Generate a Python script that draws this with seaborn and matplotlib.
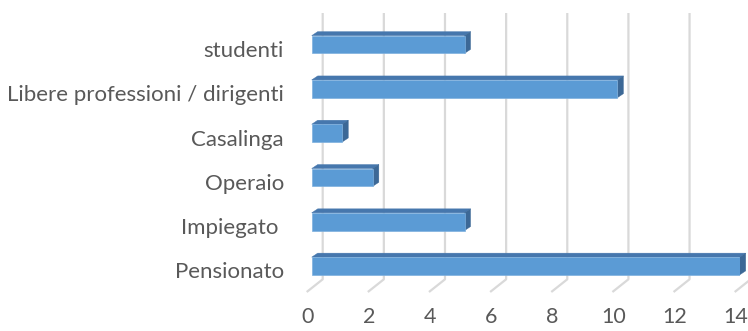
import matplotlib
matplotlib.use("Agg")
import matplotlib.pyplot as plt
import matplotlib.transforms as mtransforms
from matplotlib.patches import Polygon
import seaborn as sns
import pandas as pd

categories = ["studenti", "Libere professioni / dirigenti", "Casalinga",
              "Operaio", "Impiegato ", "Pensionato"]
values = [5, 10, 1, 2, 5, 14]
x_ticks = [0, 2, 4, 6, 8, 10, 12, 14]
x_tick_labels = ["0", "2", "4", "6", "8", "10", "12", "14"]

FRONT = "#5b9bd5"
TOP = "#4677ad"
SIDE = "#3c6896"
GRID = "#d9d9d9"
TEXT = "#595959"

sns.set_theme(style="white")
plt.rcParams["font.family"] = ["Lato", "DejaVu Sans"]

W, H = 748, 331
fig = plt.figure(figsize=(W / 100, H / 100), dpi=100)
ax = fig.add_axes([311.7 / W, (H - 292) / H, 428 / W, 279 / H])

df = pd.DataFrame({"cat": categories, "val": values})
sns.barplot(data=df, x="val", y="cat", orient="h", width=0.4, color=FRONT,
            saturation=1, ax=ax, zorder=3, edgecolor="#7eb0de", linewidth=0.5)

ax.set_xlim(0, 14)
ax.set_ylim(5.587, -0.711)
for s in ax.spines.values():
    s.set_visible(False)
ax.set_xlabel("")
ax.set_ylabel("")

bbox = ax.get_window_extent()
ppx = bbox.width / 14.0
ppy = bbox.height / (5.587 + 0.711)

# 3D gridlines: back wall + floor
blend = mtransforms.blended_transform_factory(ax.transData, ax.transAxes)
floor_back = (292 - 279.3) / 279
for v in x_ticks:
    xb = v + 11 / ppx
    xf = v - 5 / ppx
    ax.plot([xb, xb, xf], [1, floor_back, 0], transform=blend, color=GRID,
            lw=1.6, zorder=0, clip_on=False, solid_capstyle="butt")

# 3D depth faces for bars
dx = 6 / ppx
dy = 4 / ppy
for p in ax.patches:
    x0 = p.get_x()
    w = p.get_width()
    y0 = p.get_y()
    h = p.get_height()
    ytop = min(y0, y0 + h)
    ybot = max(y0, y0 + h)
    x1 = x0 + w
    top = Polygon([(x0, ytop), (x1, ytop), (x1 + dx, ytop - dy), (x0 + dx, ytop - dy)],
                  closed=True, facecolor=TOP, edgecolor=TOP, lw=0.3, zorder=2, clip_on=False)
    side = Polygon([(x1, ytop), (x1 + dx, ytop - dy), (x1 + dx, ybot - dy), (x1, ybot)],
                   closed=True, facecolor=SIDE, edgecolor=SIDE, lw=0.3, zorder=2, clip_on=False)
    ax.add_patch(top)
    ax.add_patch(side)

ax.set_xticks(x_ticks)
ax.set_xticklabels(x_tick_labels)
ax.tick_params(axis="x", length=0, pad=10.5, labelsize=15.5, labelcolor=TEXT)
ax.tick_params(axis="y", length=0, pad=20, labelsize=16, labelcolor=TEXT)
for lab in ax.get_xticklabels():
    lab.set_transform(lab.get_transform() + mtransforms.ScaledTranslation(-0.04, 0, fig.dpi_scale_trans))
for lab in ax.get_yticklabels():
    lab.set_transform(lab.get_transform() + mtransforms.ScaledTranslation(0, -0.045, fig.dpi_scale_trans))

fig.savefig("out.png", dpi=100, facecolor="white")
